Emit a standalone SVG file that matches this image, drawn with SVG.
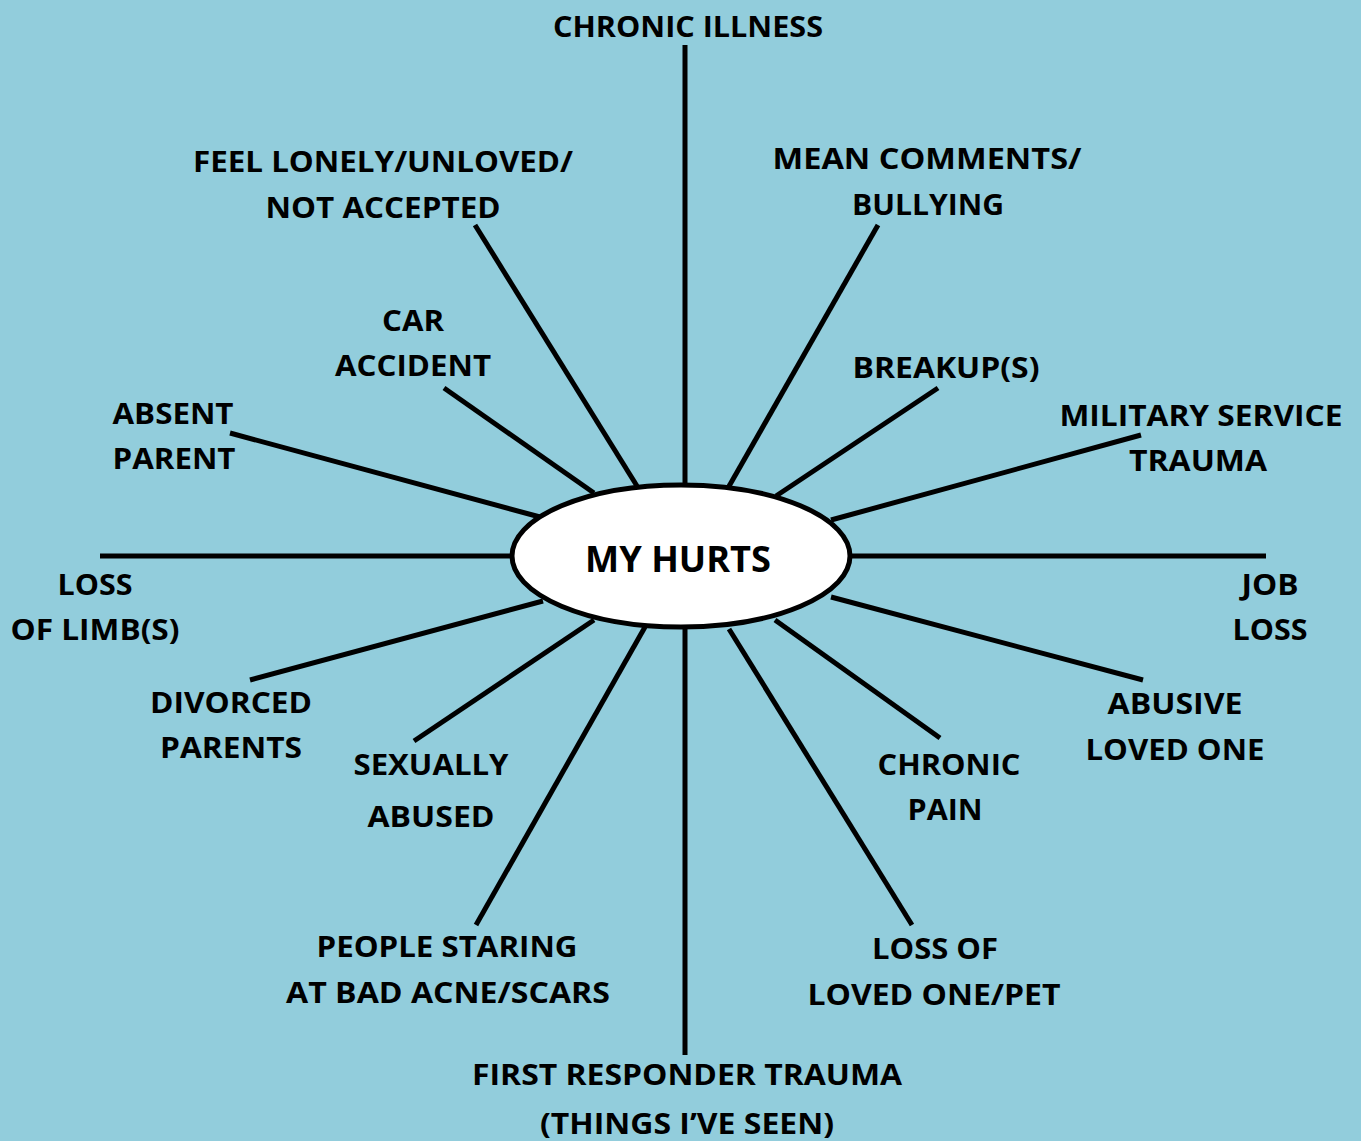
<svg xmlns="http://www.w3.org/2000/svg" width="1361" height="1141" viewBox="0 0 1361 1141">
<style>
.t{font-family:"Open Sans","Liberation Sans",sans-serif;font-weight:bold;font-size:29px;fill:#000;text-anchor:middle}
.c{font-size:35px}
.ln{stroke:#000;stroke-width:5;fill:none}
</style>
<rect width="1361" height="1141" fill="#92CDDC"/>
<g id="connectors" class="ln">
<line x1="685" y1="45" x2="685" y2="486"/>
<line x1="685" y1="628" x2="685" y2="1055"/>
<line x1="100" y1="556" x2="512" y2="556"/>
<line x1="851" y1="556" x2="1266" y2="556"/>
<line x1="475" y1="225" x2="637" y2="486"/>
<line x1="878" y1="225" x2="728" y2="488"/>
<line x1="444" y1="388" x2="594" y2="493"/>
<line x1="938" y1="388" x2="776" y2="496"/>
<line x1="230" y1="433" x2="540" y2="517"/>
<line x1="1141" y1="435" x2="831" y2="520"/>
<line x1="250" y1="680" x2="543" y2="601"/>
<line x1="1143" y1="680" x2="831" y2="597"/>
<line x1="414" y1="741" x2="594" y2="620"/>
<line x1="940" y1="738" x2="775" y2="620"/>
<line x1="476" y1="925" x2="645" y2="627"/>
<line x1="912" y1="925" x2="729" y2="629"/>
</g>
<g id="center">
<ellipse cx="681" cy="556" rx="169" ry="71" fill="#fff" stroke="#000" stroke-width="5"/>
<text class="t c" x="678" y="572" textLength="186" lengthAdjust="spacingAndGlyphs">MY HURTS</text>
</g>
<g id="chronic-illness"><text class="t" x="688" y="37" textLength="270" lengthAdjust="spacingAndGlyphs">CHRONIC ILLNESS</text></g>
<g id="feel-lonely"><text class="t" x="383" y="172" textLength="380" lengthAdjust="spacingAndGlyphs">FEEL LONELY/UNLOVED/</text><text class="t" x="383" y="218" textLength="235" lengthAdjust="spacingAndGlyphs">NOT ACCEPTED</text></g>
<g id="mean-comments"><text class="t" x="927" y="169" textLength="309" lengthAdjust="spacingAndGlyphs">MEAN COMMENTS/</text><text class="t" x="928" y="215" textLength="152" lengthAdjust="spacingAndGlyphs">BULLYING</text></g>
<g id="car-accident"><text class="t" x="413" y="331" textLength="62" lengthAdjust="spacingAndGlyphs">CAR</text><text class="t" x="413" y="376" textLength="156" lengthAdjust="spacingAndGlyphs">ACCIDENT</text></g>
<g id="breakups"><text class="t" x="946" y="378" textLength="187" lengthAdjust="spacingAndGlyphs">BREAKUP(S)</text></g>
<g id="absent-parent"><text class="t" x="173" y="424" textLength="121" lengthAdjust="spacingAndGlyphs">ABSENT</text><text class="t" x="174" y="469" textLength="123" lengthAdjust="spacingAndGlyphs">PARENT</text></g>
<g id="military"><text class="t" x="1201" y="426" textLength="283" lengthAdjust="spacingAndGlyphs">MILITARY SERVICE</text><text class="t" x="1198" y="471" textLength="138" lengthAdjust="spacingAndGlyphs">TRAUMA</text></g>
<g id="loss-of-limbs"><text class="t" x="95" y="595" textLength="75" lengthAdjust="spacingAndGlyphs">LOSS</text><text class="t" x="95" y="640" textLength="169" lengthAdjust="spacingAndGlyphs">OF LIMB(S)</text></g>
<g id="job-loss"><text class="t" x="1270" y="595" textLength="57" lengthAdjust="spacingAndGlyphs">JOB</text><text class="t" x="1270" y="640" textLength="75" lengthAdjust="spacingAndGlyphs">LOSS</text></g>
<g id="divorced"><text class="t" x="231" y="713" textLength="162" lengthAdjust="spacingAndGlyphs">DIVORCED</text><text class="t" x="231" y="758" textLength="142" lengthAdjust="spacingAndGlyphs">PARENTS</text></g>
<g id="abusive"><text class="t" x="1175" y="714" textLength="135" lengthAdjust="spacingAndGlyphs">ABUSIVE</text><text class="t" x="1175" y="760" textLength="179" lengthAdjust="spacingAndGlyphs">LOVED ONE</text></g>
<g id="sexually-abused"><text class="t" x="431" y="775" textLength="155" lengthAdjust="spacingAndGlyphs">SEXUALLY</text><text class="t" x="431" y="827" textLength="127" lengthAdjust="spacingAndGlyphs">ABUSED</text></g>
<g id="chronic-pain"><text class="t" x="949" y="775" textLength="143" lengthAdjust="spacingAndGlyphs">CHRONIC</text><text class="t" x="945" y="820" textLength="75" lengthAdjust="spacingAndGlyphs">PAIN</text></g>
<g id="people-staring"><text class="t" x="447" y="957" textLength="261" lengthAdjust="spacingAndGlyphs">PEOPLE STARING</text><text class="t" x="448" y="1003" textLength="324" lengthAdjust="spacingAndGlyphs">AT BAD ACNE/SCARS</text></g>
<g id="loss-loved-one"><text class="t" x="935" y="959" textLength="126" lengthAdjust="spacingAndGlyphs">LOSS OF</text><text class="t" x="934" y="1005" textLength="253" lengthAdjust="spacingAndGlyphs">LOVED ONE/PET</text></g>
<g id="first-responder"><text class="t" x="687" y="1085" textLength="430" lengthAdjust="spacingAndGlyphs">FIRST RESPONDER TRAUMA</text><text class="t" x="687" y="1134" textLength="294" lengthAdjust="spacingAndGlyphs">(THINGS I’VE SEEN)</text></g>
</svg>
